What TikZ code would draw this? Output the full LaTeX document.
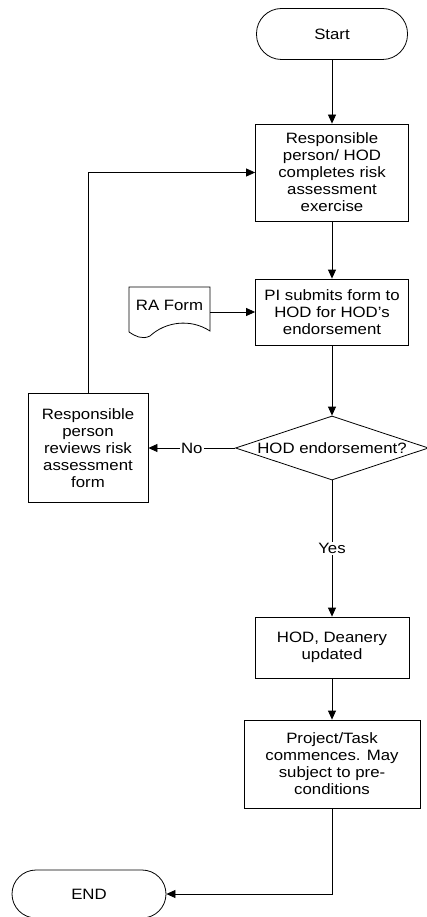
\documentclass[tikz,border=0pt]{standalone}
\usepackage{fontspec}
\setmainfont{Liberation Sans}[FakeStretch=1.12]
\usetikzlibrary{shapes.geometric,arrows.meta}
\begin{document}
\begin{tikzpicture}[x=1pt,y=-1pt,
  every node/.style={font=\fontsize{15}{17}\selectfont, inner sep=0pt},
  proc/.style={draw, line width=0.8pt, rectangle, align=center},
  term/.style={draw, line width=0.8pt, rectangle, align=center},
  decision/.style={draw, line width=0.8pt, diamond, minimum width=193pt, minimum height=64pt},
  arr/.style={-{Triangle[length=9pt,width=8pt]}, line width=0.8pt},
  lbl/.style={fill=white, inner sep=1.5pt}
]
\useasboundingbox (0,0) rectangle (426,917);
\fill[white] (0,0) rectangle (426,917);

\node[term, rounded corners=25pt, minimum width=151pt, minimum height=51pt] (start) at (332,34) {Start};
\node[proc, minimum width=153pt, minimum height=97pt] (b1) at (332,172.5)
  {Responsible\\person/ HOD\\completes risk\\assessment\\exercise};
\node[proc, minimum width=153pt, minimum height=66pt] (b2) at (332,312)
  {PI submits form to\\HOD for HOD's\\endorsement};
\node[minimum width=81pt, minimum height=45pt, text depth=9pt] (ra) at (169.5,309.5) {RA Form};
\draw[line width=0.8pt] (129,332) -- (129,287) -- (210,287) -- (210,331)
  .. controls (190,318) and (165,322) .. (150,336)
  .. controls (142,340) and (135,336) .. (129,332);
\node[decision] (dec) at (332,448) {\makebox[0pt]{HOD endorsement?}};
\node[proc, minimum width=120pt, minimum height=109pt] (lb) at (88,448)
  {Responsible\\person\\reviews risk\\assessment\\form};
\node[proc, minimum width=154pt, minimum height=61pt] (b3) at (332,647.5)
  {HOD, Deanery\\updated};
\node[proc, minimum width=176pt, minimum height=88pt] (b4) at (332,764)
  {Project/Task\\commences. May\\subject to pre-\\conditions};
\node[term, rounded corners=24pt, minimum width=154pt, minimum height=48pt] (end) at (89,894) {END};

\draw[arr] (start) -- (b1);
\draw[arr] (b1) -- (b2);
\draw[arr] (ra.east |- b2.west) -- (b2.west);
\draw[arr] (b2) -- (dec);
\draw[arr] (dec.west) -- node[lbl] {No} (lb.east);
\draw[arr] (lb.north) |- (b1.west);
\draw[arr] (dec.south) -- node[lbl] {Yes} (b3.north);
\draw[arr] (b3) -- (b4);
\draw[arr] (b4.south) |- (end.east);
\end{tikzpicture}
\end{document}
